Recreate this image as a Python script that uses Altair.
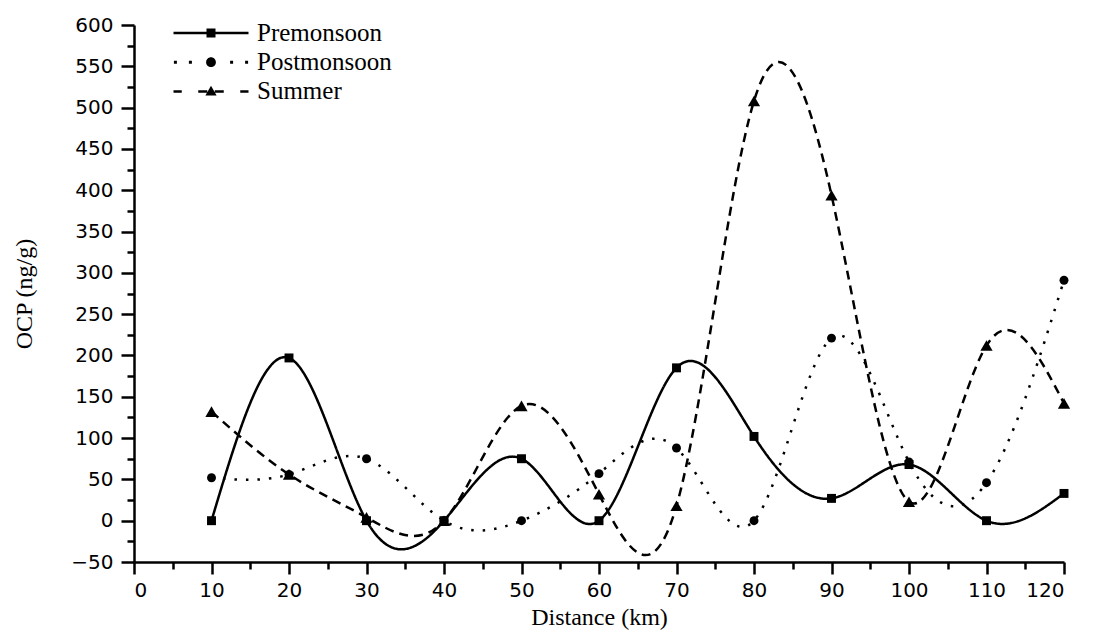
import altair as alt
import pandas as pd

distance = [10, 20, 30, 40, 50, 60, 70, 80, 90, 100, 110, 120]
premonsoon = [0, 197, 0, 0, 75, 0, 185, 102, 27, 68, 0, 33]
postmonsoon = [52, 56, 75, 0, 0, 57, 88, 0, 221, 71, 46, 291]
summer = [132, 56, 4, 0, 139, 32, 18, 508, 394, 23, 212, 142]
seasons = ["Premonsoon", "Postmonsoon", "Summer"]

rows = []
for name, vals in zip(seasons, [premonsoon, postmonsoon, summer]):
    for d, v in zip(distance, vals):
        rows.append({"Distance": d, "OCP": v, "Season": name})
df = pd.DataFrame(rows)


def rect(x0, x1, h):
    return f"M{x0},{-h} L{x1},{-h} L{x1},{h} L{x0},{h} Z "


# legend glyphs (1 unit = 5 px at symbolSize 100): line sample + marker, filled shapes
square_glyph = rect(-0.9, 0.9, 0.9)
circle_glyph = "M0.98,0 A0.98,0.98 0 1,1 -0.98,0 A0.98,0.98 0 1,1 0.98,0 Z "
triangle_glyph = "M0,-1.12 L1.12,0.82 L-1.12,0.82 Z "
solid_sample = rect(-7.5, 7.5, 0.25)
dotted_sample = "".join(rect(c - 0.3, c + 0.3, 0.3) for c in (-7.12, -4.12, 4.12, 7.12))
dashed_sample = "".join(rect(a, b, 0.25) for a, b in ((-7.5, -5.85), (-2.55, -0.75), (0.75, 2.55), (5.85, 7.5)))
legend_paths = [
    solid_sample + square_glyph,
    dotted_sample + circle_glyph,
    dashed_sample + triangle_glyph,
]

dash_scale = alt.Scale(domain=seasons, range=[[1, 0], [2.5, 9], [9, 6]])
marker_shapes = ["square", "circle", "triangle-up"]
marker_sizes = [80, 80, 150]

x_scale = alt.Scale(domain=[0, 120], nice=False, zero=False)
y_scale = alt.Scale(domain=[-50, 600], nice=False, zero=False)

x_major = alt.X("Distance:Q", title="Distance (km)", scale=x_scale,
                axis=alt.Axis(orient="bottom", values=list(range(0, 121, 10)), tickSize=12,
                              grid=False, labelPadding=6, titlePadding=5))
y_major = alt.Y("OCP:Q", title="OCP (ng/g)", scale=y_scale,
                axis=alt.Axis(orient="left", values=list(range(-50, 601, 50)), tickSize=13,
                              grid=False, labelPadding=8, titlePadding=34))
x_minor = alt.X("Distance:Q", title=None, scale=x_scale,
                axis=alt.Axis(orient="bottom", values=list(range(5, 121, 10)), tickSize=7,
                              labels=False, domain=False, grid=False))
y_minor = alt.Y("OCP:Q", title=None, scale=y_scale,
                axis=alt.Axis(orient="left", values=list(range(-25, 601, 50)), tickSize=7,
                              labels=False, domain=False, grid=False))
x_none = alt.X("Distance:Q", scale=x_scale, axis=None)
y_none = alt.Y("OCP:Q", scale=y_scale, axis=None)

leg = alt.Legend(
    title=None, orient="none", legendX=64.5, legendY=-4.5,
    symbolSize=100, rowPadding=3.2,
    labelFont="Liberation Serif", labelFontSize=25, labelColor="black",
    labelOffset=33.5, padding=0, symbolStrokeWidth=0,
    symbolStrokeColor="black", symbolFillColor="black", symbolOpacity=1,
)

lines = alt.Chart(df).mark_line(
    interpolate="natural", color="black", strokeWidth=2.5, clip=True
).encode(
    x=x_major, y=y_major,
    strokeDash=alt.StrokeDash("Season:N", scale=dash_scale, legend=leg),
    detail="Season:N",
)

point_layers = []
for i, (name, shp, sz) in enumerate(zip(seasons, marker_shapes, marker_sizes)):
    point_layers.append(
        alt.Chart(df).transform_filter(alt.datum.Season == name).mark_point(
            filled=True, color="black", opacity=1, shape=shp, size=sz
        ).encode(x=x_minor if i == 0 else x_none, y=y_minor if i == 0 else y_none)
    )

legend_layer = alt.Chart(df).mark_point(
    filled=True, fill="black", stroke="black", strokeWidth=2.5, size=0, clip=True
).encode(
    x=x_none, y=y_none,
    shape=alt.Shape("Season:N", scale=alt.Scale(domain=seasons, range=legend_paths), legend=leg),
    strokeDash=alt.StrokeDash("Season:N", scale=dash_scale, legend=leg),
)

chart = alt.layer(lines, *point_layers, legend_layer).resolve_axis(
    x="independent", y="independent"
).properties(
    width=930,
    height=537,
    autosize=alt.AutoSizeParams(type="none"),
    padding={"left": 126, "top": 17, "right": 22, "bottom": 69},
).configure_view(stroke=None).configure_axis(
    domainColor="black", domainWidth=2.5, tickColor="black", tickWidth=2.5,
    labelFont="DejaVu Sans", labelFontSize=20, labelColor="black",
    titleFont="Liberation Serif", titleFontSize=24, titleFontWeight="normal",
    titleColor="black",
).configure_axisY(titleFontSize=24)

chart.save("out.html", embed_options={"renderer": "svg", "actions": False})
